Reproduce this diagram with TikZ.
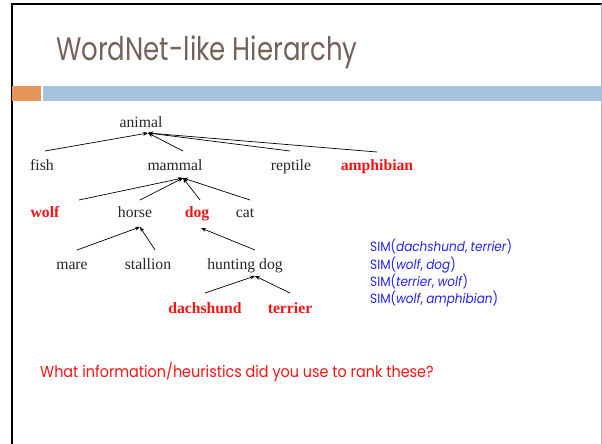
\documentclass[tikz,border=0pt]{standalone}
\usepackage{fontspec}
\usepackage{xcolor}
\usetikzlibrary{arrows.meta,positioning}
\setmainfont{Liberation Serif}
\newfontfamily\slidefont[FakeStretch=0.9]{Poppins}
\newfontfamily\headfont[FakeStretch=0.8]{Poppins}

\definecolor{titlegray}{RGB}{117,98,90}
\definecolor{barorange}{RGB}{230,150,90}
\definecolor{barblue}{RGB}{165,195,220}
\definecolor{simblue}{RGB}{35,35,240}
\definecolor{hotred}{RGB}{245,20,20}

\tikzset{
  word/.style={inner sep=0pt, anchor=base, font=\fontsize{15.7}{18}\selectfont, text=black!85},
  keyword/.style={word, font=\fontsize{15.7}{18}\selectfont\bfseries, text=hotred},
  isa/.style={-{Stealth[length=5pt,width=4pt]}, line width=0.7pt}
}

\begin{document}
\begin{tikzpicture}[x=1pt,y=-1pt]
  \useasboundingbox (0,0) rectangle (602,444);

  % slide frame
  \draw[line width=2pt] (12,444) -- (12,4) -- (602,4);
  \draw[black!30, line width=1pt] (601.5,4) -- (601.5,444);

  % title and bars
  \node[anchor=base west, inner sep=0pt, text=titlegray,
        font=\headfont\fontsize{32.5}{34}\selectfont] (title) at (56,61) {WordNet-like Hierarchy};
  \fill[barorange] (12,86) rectangle (41,101);
  \fill[barblue] (43,86) rectangle (602,101);

  % the hierarchy
  \node[word] (animal) at (141,127) {animal};
  \node[word] (fish) at (42,170) {fish};
  \node[word] (mammal) at (175,170) {mammal};
  \node[word] (reptile) at (291,170) {reptile};
  \node[keyword] (amphibian) at (377,170) {amphibian};
  \node[keyword] (wolf) at (45,217) {wolf};
  \node[word] (horse) at (135,217) {horse};
  \node[keyword] (dog) at (197,217) {dog};
  \node[word] (cat) at (245,217) {cat};
  \node[word] (mare) at (72,269) {mare};
  \node[word] (stallion) at (148,269) {stallion};
  \node[word] (hunting) at (245,269) {hunting dog};
  \node[keyword] (dachshund) at (205,313) {dachshund};
  \node[keyword] (terrier) at (290,313) {terrier};

  % where the arrows meet
  \coordinate (animal-in) at ([shift={(7,6)}]animal.base);
  \coordinate (mammal-in) at ([shift={(8,8)}]mammal.base);
  \coordinate (horse-in) at ([shift={(5,10)}]horse.base);
  \coordinate (dog-in) at ([shift={(4,11)}]dog.base);
  \coordinate (hunting-in) at ([shift={(10,7)}]hunting.base);

  % is-a links
  \draw[isa] ([shift={(3,-19)}]fish.base) -- (animal-in);
  \draw[isa] ([shift={(8,-19)}]mammal.base) -- (animal-in);
  \draw[isa] ([shift={(-1,-19)}]reptile.base) -- (animal-in);
  \draw[isa] ([shift={(0,-18)}]amphibian.base) -- (animal-in);
  \draw[isa] ([shift={(34,-17)}]wolf.base) -- (mammal-in);
  \draw[isa] ([shift={(5,-17)}]horse.base) -- (mammal-in);
  \draw[isa] ([shift={(3,-17)}]dog.base) -- (mammal-in);
  \draw[isa] ([shift={(5,-17)}]cat.base) -- (mammal-in);
  \draw[isa] ([shift={(5,-19)}]mare.base) -- (horse-in);
  \draw[isa] ([shift={(7,-19)}]stallion.base) -- (horse-in);
  \draw[isa] ([shift={(10,-19)}]hunting.base) -- (dog-in);
  \draw[isa] ([shift={(0,-20)}]dachshund.base) -- (hunting-in);
  \draw[isa] ([shift={(0,-20)}]terrier.base) -- (hunting-in);

  % similarity queries
  \node[anchor=north west, inner sep=0pt, align=left, text=simblue,
        font=\slidefont\fontsize{13.4}{17.3}\selectfont] (sims) at (370,239)
    {SIM(\textit{dachshund}, \textit{terrier})\\
     SIM(\textit{wolf}, \textit{dog})\\
     SIM(\textit{terrier}, \textit{wolf})\\
     SIM(\textit{wolf}, \textit{amphibian})};

  \node[anchor=base west, inner sep=0pt, text=hotred,
        font=\slidefont\fontsize{16}{18}\selectfont] (question) at (40,377)
    {What information/heuristics did you use to rank these?};
\end{tikzpicture}
\end{document}
